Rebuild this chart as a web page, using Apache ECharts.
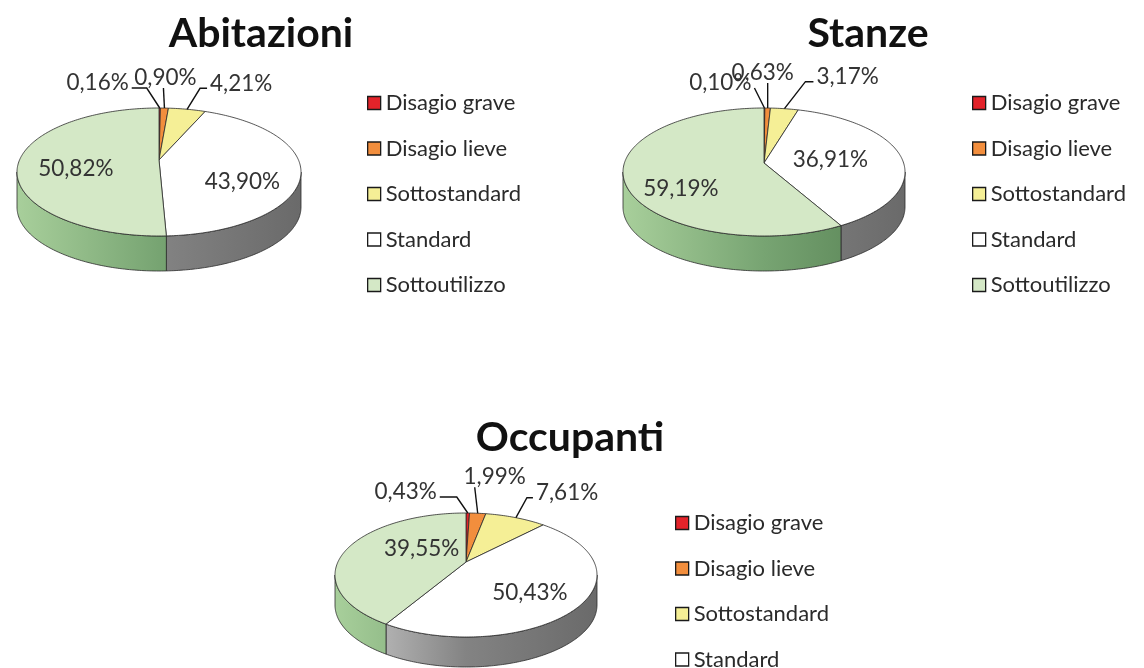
<!DOCTYPE html>
<html>
<head>
<meta charset="utf-8">
<title>Abitazioni, Stanze, Occupanti</title>
<script src="https://cdn.jsdelivr.net/npm/echarts@6/dist/echarts.min.js"></script>
<style>
  html, body { margin: 0; padding: 0; background: #fff; }
  #main { width: 1144px; height: 668px; }
</style>
</head>
<body>
<div id="main"></div>
<script>
// dati (percentuali)
const categories = ['Disagio grave', 'Disagio lieve', 'Sottostandard', 'Standard', 'Sottoutilizzo'];
const chartTitles = ['Abitazioni', 'Stanze', 'Occupanti'];
const abitazioni = [0.16, 0.90, 4.21, 43.90, 50.82];
const stanze = [0.10, 0.63, 3.17, 36.91, 59.19];
const occupanti = [0.43, 1.99, 7.61, 50.43, 39.55];
const pieValues = [abitazioni, stanze, occupanti];

// colori: faccia superiore e fianco (chiaro -> scuro)
const topColors = ['#e3232a', '#f28e3d', '#f5ef96', '#ffffff', '#d4e8c6'];
const sideColors = [
  ['#d8262c', '#b31d22', '#8e161a'],
  ['#f0a060', '#d07a30', '#a85e22'],
  ['#eeea9a', '#cfc870', '#a9a350'],
  ['#cdcdcd', '#838383', '#6a6a6a'],
  ['#a8cf9b', '#77a472', '#557f52']
];

// layout di ogni torta (ellisse, spessore, titolo, legenda, etichette)
const pies = [
  {
    cx: 159, cy: 172, rx: 142, ry: 64, apexDy: -12, depth: 35,
    titleX: 261, titleY: 13, legendX: 367, legendY: 92,
    labels: [
      { ex: -13, ey: -20, hx: -15, align: 'right' },
      { ex: -1, ey: -20, hx: 0, align: 'center', tdx: 2 },
      { ex: 13, ey: -21, hx: 7, align: 'left' },
      { nx: -1, ny: 4 },
      { nx: 2, ny: -4 }
    ]
  },
  {
    cx: 764, cy: 172, rx: 141, ry: 64, apexDy: -9, depth: 35,
    titleX: 868, titleY: 13, legendX: 972, legendY: 92,
    labels: [
      { ex: -10, ey: -20, hx: 0, align: 'right' },
      { ex: 0, ey: -25, hx: 0, align: 'center', tdx: -5 },
      { ex: 21, ey: -27, hx: 8, align: 'left' },
      { nx: -17, ny: -6 },
      { nx: -2, ny: 6 }
    ]
  },
  {
    cx: 466, cy: 575, rx: 131, ry: 62, apexDy: -13, depth: 30,
    titleX: 570, titleY: 417, legendX: 675, legendY: 512,
    labels: [
      { ex: -11, ey: -16, hx: -17, align: 'right' },
      { ex: -3, ey: -26, hx: 0, align: 'center', tdx: 20 },
      { ex: 11, ey: -20, hx: 6, align: 'left' },
      { nx: 1, ny: -5 },
      { nx: 30, ny: -14 }
    ]
  }
];

const labelFont = 'Lato';

function fmt(v) {
  return v.toFixed(2).replace('.', ',') + '%';
}

// torta 3D disegnata con serie custom
function makeRenderer(p, c) {
  return function (params, api) {
    const g = pies[p];
    const vals = pieValues[p];
    const total = vals.reduce((a, b) => a + b, 0);
    let before = 0;
    for (let i = 0; i < c; i++) before += vals[i];
    const v = api.value(0);
    const a0 = before / total * 360;
    const a1 = (before + v) / total * 360;

    const rim = function (deg, dy) {
      const r = deg * Math.PI / 180;
      return [g.cx + g.rx * Math.sin(r), g.cy - g.ry * Math.cos(r) + (dy || 0)];
    };
    const arc = function (s, e, dy) {
      const n = Math.max(2, Math.ceil(e - s));
      const pts = [];
      for (let i = 0; i <= n; i++) pts.push(rim(s + (e - s) * i / n, dy));
      return pts;
    };

    const children = [];

    // fianco visibile (metà anteriore)
    const s = Math.max(a0, 90), e = Math.min(a1, 270);
    if (e > s) {
      const upper = arc(s, e, 0);
      const lower = arc(s, e, g.depth).reverse();
      const sc = sideColors[c];
      children.push({
        type: 'polygon',
        z2: 1,
        shape: { points: upper.concat(lower) },
        style: {
          fill: {
            type: 'linear', global: true,
            x: g.cx - g.rx, y: 0, x2: g.cx + g.rx, y2: 0,
            colorStops: [
              { offset: 0, color: sc[0] },
              { offset: 0.5, color: sc[1] },
              { offset: 1, color: sc[2] }
            ]
          },
          stroke: '#2b2b2b',
          lineWidth: 0.8
        }
      });
    }

    // faccia superiore
    const apex = [g.cx, g.cy + g.apexDy];
    children.push({
      type: 'polygon',
      z2: 5,
      shape: { points: [apex].concat(arc(a0, a1, 0)) },
      style: { fill: topColors[c], stroke: '#2b2b2b', lineWidth: 0.8 }
    });

    // etichetta
    const lab = g.labels[c];
    const mid = (a0 + a1) / 2;
    const textStyle = { text: fmt(v), fill: '#333', fontSize: 22.5, fontFamily: labelFont, verticalAlign: 'middle' };
    if (lab.ex !== undefined) {
      const p0 = rim(mid, 0);
      const p1 = [p0[0] + lab.ex, p0[1] + lab.ey];
      const p2 = [p1[0] + lab.hx, p1[1]];
      children.push({
        type: 'polyline',
        z2: 15,
        shape: { points: [p0, p1, p2] },
        style: { stroke: '#111', lineWidth: 1.4, fill: null }
      });
      let tx, ty, align;
      if (lab.align === 'right') { tx = p2[0] - 3; ty = p2[1] - 5; align = 'right'; }
      else if (lab.align === 'left') { tx = p2[0] + 3; ty = p2[1] - 5; align = 'left'; }
      else { tx = p2[0] + (lab.tdx || 0); ty = p2[1] - 10; align = 'center'; }
      children.push({
        type: 'text', z2: 20, x: tx, y: ty,
        style: Object.assign({}, textStyle, { align: align })
      });
    } else {
      const r = mid * Math.PI / 180;
      const tx = g.cx + g.rx * 0.6 * Math.sin(r) + lab.nx;
      const ty = g.cy - g.ry * 0.6 * Math.cos(r) + lab.ny;
      children.push({
        type: 'text', z2: 20, x: tx, y: ty,
        style: Object.assign({}, textStyle, { align: 'center' })
      });
    }

    return { type: 'group', children: children };
  };
}

const myChart = echarts.init(document.getElementById('main'), null, { renderer: 'canvas' });

const series = [];
pieValues.forEach(function (vals, p) {
  vals.forEach(function (v, c) {
    series.push({
      type: 'custom',
      name: categories[c],
      coordinateSystem: 'none',
      silent: true,
      itemStyle: { color: topColors[c] },
      dimensions: ['value'],
      data: [[v]],
      renderItem: makeRenderer(p, c)
    });
  });
});

const option = {
  backgroundColor: '#ffffff',
  animation: false,
  title: pies.map(function (g, p) {
    return {
      text: chartTitles[p],
      left: g.titleX,
      top: g.titleY,
      textAlign: 'center',
      padding: 0,
      textStyle: { fontFamily: 'Lato', fontWeight: 'bold', fontSize: 41, color: '#111' }
    };
  }),
  legend: pies.map(function (g) {
    return {
      orient: 'vertical',
      left: g.legendX,
      top: g.legendY,
      height: 320,
      padding: 0,
      data: categories,
      icon: 'rect',
      itemWidth: 13,
      itemHeight: 13,
      itemGap: 23.5,
      selectedMode: false,
      itemStyle: { borderColor: '#1a1a1a', borderWidth: 1.3 },
      textStyle: { fontFamily: 'Lato', fontSize: 22, color: '#2a2a2a', lineHeight: 20 }
    };
  }),
  series: series
};

myChart.setOption(option);

window.addEventListener('resize', function () {
  myChart.resize();
});
</script>
</body>
</html>
